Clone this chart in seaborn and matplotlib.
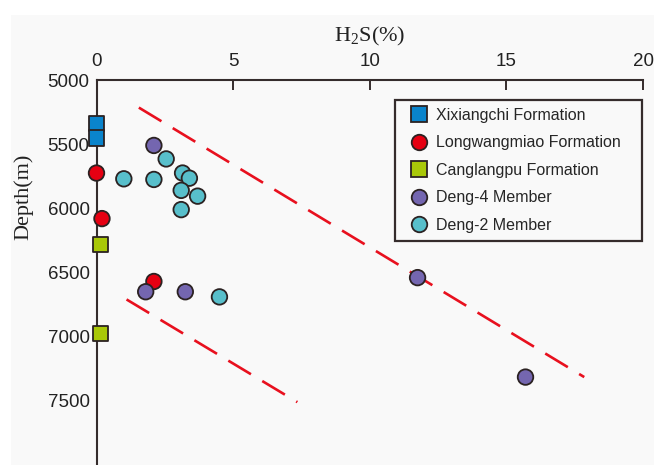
import pandas as pd
import matplotlib
matplotlib.use("Agg")
import matplotlib.pyplot as plt
from matplotlib.patches import Rectangle
import seaborn as sns

# values
xixiangchi_h2s = [0.0, 0.0]
xixiangchi_depth = [5340, 5450]
longwang_h2s = [0.0, 0.2, 2.1]
longwang_depth = [5725, 6080, 6570]
canglang_h2s = [0.15, 0.15]
canglang_depth = [6280, 6975]
deng4_h2s = [2.1, 1.8, 3.25, 11.75, 15.7]
deng4_depth = [5510, 6650, 6650, 6540, 7315]
deng2_h2s = [2.55, 1.0, 2.1, 3.15, 3.4, 3.1, 3.7, 3.1, 4.5]
deng2_depth = [5615, 5770, 5775, 5725, 5765, 5860, 5905, 6010, 6690]

# dashed trend lines (start / end)
upper_h2s = [1.55, 17.85]
upper_depth = [5215, 7315]
lower_h2s = [1.1, 7.35]
lower_depth = [6710, 7510]

groups = ["Xixiangchi Formation", "Longwangmiao Formation", "Canglangpu Formation",
          "Deng-4 Member", "Deng-2 Member"]
colors = {"Xixiangchi Formation": "#0a84cc",
          "Longwangmiao Formation": "#e60012",
          "Canglangpu Formation": "#a9c808",
          "Deng-4 Member": "#7466b0",
          "Deng-2 Member": "#58bfcb"}
markers = {"Xixiangchi Formation": "s",
           "Longwangmiao Formation": "o",
           "Canglangpu Formation": "s",
           "Deng-4 Member": "o",
           "Deng-2 Member": "o"}

xs = [xixiangchi_h2s, longwang_h2s, canglang_h2s, deng4_h2s, deng2_h2s]
ys = [xixiangchi_depth, longwang_depth, canglang_depth, deng4_depth, deng2_depth]
df = pd.concat([pd.DataFrame({"h2s": x, "depth": y, "unit": g})
                for g, x, y in zip(groups, xs, ys)], ignore_index=True)

bg = "#f9f9f9"
dark = "#352c2c"

sns.set_style("white")
plt.rcParams["font.family"] = ["Liberation Sans", "DejaVu Sans"]

fig = plt.figure(figsize=(6.54, 4.65), dpi=100, facecolor="white")
fig.patches.append(Rectangle((11 / 654, 0), 1, 1 - 15 / 465, transform=fig.transFigure,
                             facecolor=bg, edgecolor="none", zorder=-10))
ax = fig.add_axes([96.5 / 654, 0, 546.5 / 654, 1 - 80 / 465])
ax.set_facecolor("none")

ax.plot(upper_h2s, upper_depth, color="#e8101e", lw=1.9, dashes=(10, 5), zorder=1)
ax.plot(lower_h2s, lower_depth, color="#e8101e", lw=1.9, dashes=(10, 5), zorder=1)

sns.scatterplot(data=df, x="h2s", y="depth", hue="unit", style="unit",
                palette=colors, markers=markers, hue_order=groups, style_order=groups,
                s=125, edgecolor="#2b2222", linewidth=1.3, clip_on=False, zorder=3, ax=ax)

ax.set_xlim(0, 20)
ax.set_ylim(8000, 5000)
ax.set_xticks([0, 5, 10, 15, 20])
ax.set_yticks([5000, 5500, 6000, 6500, 7000, 7500])

ax.xaxis.tick_top()
ax.xaxis.set_label_position("top")
ax.tick_params(axis="x", direction="in", length=7, width=1.4, color=dark,
               pad=7, labelsize=13.5, labelcolor="#222222")
ax.tick_params(axis="y", direction="in", length=3.5, width=1.4, color=dark,
               pad=5, labelsize=13.5, labelcolor="#222222")
for side in ["bottom", "right"]:
    ax.spines[side].set_visible(False)
for side in ["top", "left"]:
    ax.spines[side].set_color(dark)
    ax.spines[side].set_linewidth(1.5)

ax.set_xlabel(r"H$_\mathregular{2}$S(%)", family="Liberation Serif", fontsize=16,
              color="#222222", labelpad=8.5)
ax.set_ylabel("Depth(m)", family="Liberation Serif", fontsize=16, color="#222222")
ax.yaxis.set_label_coords(-63 / 546.5, (466 - 197) / 386)

handles, labels = ax.get_legend_handles_labels()
leg = ax.legend(handles, labels, loc="upper left",
                bbox_to_anchor=(0.546, 0.585, 0.452, 0.363), mode="expand",
                borderaxespad=0, fontsize=11.5, labelspacing=0.78, handletextpad=0.05,
                handlelength=2.0, borderpad=0.5, markerscale=1.0,
                frameon=True, fancybox=False, framealpha=1)
leg.get_frame().set_edgecolor(dark)
leg.get_frame().set_linewidth(1.6)
leg.get_frame().set_facecolor(bg)

fig.savefig("out.png", dpi=100, facecolor=fig.get_facecolor())
